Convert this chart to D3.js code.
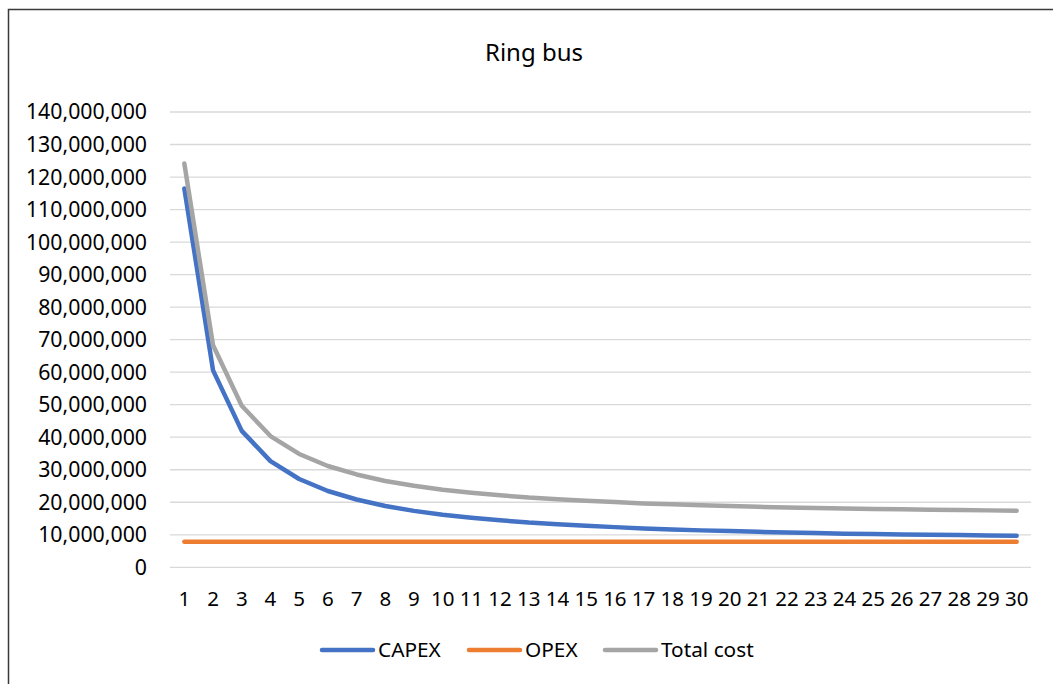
<!DOCTYPE html>
<html>
<head>
<meta charset="utf-8">
<script src="https://cdn.jsdelivr.net/npm/d3@7"></script>
<style>
  body { margin: 0; background: #fff; }
  text { font-family: "Noto Sans", sans-serif; fill: #000; }
</style>
</head>
<body>
<svg></svg>
<script>
// years 1..30
var years = d3.range(1, 31)

// values (baht)
var capex = [116300000, 60400000, 41800000, 32500000, 27000000, 23300000, 20700000, 18700000, 17200000, 16000000,
             15100000, 14300000, 13600000, 13100000, 12600000, 12200000, 11800000, 11500000, 11200000, 11000000,
             10750000, 10550000, 10400000, 10200000, 10100000, 9960000, 9850000, 9750000, 9650000, 9570000]
var opex = [7700000, 7700000, 7700000, 7700000, 7700000, 7700000, 7700000, 7700000, 7700000, 7700000,
            7700000, 7700000, 7700000, 7700000, 7700000, 7700000, 7700000, 7700000, 7700000, 7700000,
            7700000, 7700000, 7700000, 7700000, 7700000, 7700000, 7700000, 7700000, 7700000, 7700000]
var totalCost = [124000000, 68100000, 49500000, 40200000, 34700000, 31000000, 28400000, 26400000, 24900000, 23700000,
                 22800000, 22000000, 21300000, 20800000, 20300000, 19900000, 19500000, 19200000, 18900000, 18700000,
                 18450000, 18250000, 18100000, 17900000, 17800000, 17660000, 17550000, 17450000, 17350000, 17270000]
var yTicks = d3.range(0, 140000001, 10000000)

var seriesNames = ["CAPEX", "OPEX", "Total cost"]
var seriesColors = ["#4472C4", "#ED7D31", "#A5A5A5"]
var seriesValues = [capex, opex, totalCost]

var screen = {width: 1053, height: 684}
var plot = {left: 170, right: 1031, top: 111.5, bottom: 566.8}

var svg = d3.select("svg")
    .attr("width", screen.width)
    .attr("height", screen.height)

// chart frame (cut off at right and bottom)
svg.append("rect")
    .attr("x", 8.5).attr("y", 9.5)
    .attr("width", 1100).attr("height", 800)
    .attr("fill", "#fff")
    .attr("stroke", "#3a3a3a")
    .attr("stroke-width", 1.5)

svg.append("text")
    .attr("x", 534).attr("y", 61)
    .attr("text-anchor", "middle")
    .style("font-size", "24px")
    .text("Ring bus")

var xScale = d3.scaleBand()
    .domain(years)
    .range([plot.left, plot.right])

var yScale = d3.scaleLinear()
    .domain([0, 140000000])
    .range([plot.bottom, plot.top])

// gridlines
var yAxis = d3.axisLeft(yScale)
    .tickValues(yTicks)
    .tickSize(-(plot.right - plot.left))
    .tickPadding(23)
    .tickFormat(d3.format(","))

var gy = svg.append("g")
    .attr("transform", "translate(" + plot.left + ",0)")
    .call(yAxis)
gy.select(".domain").remove()
gy.selectAll(".tick line").attr("stroke", "#d9d9d9").attr("stroke-width", 1.3)
gy.selectAll(".tick text").style("font-size", "21.3px").attr("dy", "0.35em")

var xAxis = d3.axisBottom(xScale).tickSize(0).tickPadding(25)
var gx = svg.append("g")
    .attr("transform", "translate(0," + plot.bottom + ")")
    .call(xAxis)
gx.select(".domain").remove()
gx.selectAll(".tick text").style("font-size", "20.5px")

var line = d3.line()
    .x(function(d, i) { return xScale(years[i]) + xScale.bandwidth() / 2 })
    .y(function(d) { return yScale(d) })

svg.selectAll(".series")
    .data(seriesValues)
    .enter()
    .append("path")
    .attr("class", "series")
    .attr("d", line)
    .attr("fill", "none")
    .attr("stroke", function(d, i) { return seriesColors[i] })
    .attr("stroke-width", 4.5)
    .attr("stroke-linecap", "round")
    .attr("stroke-linejoin", "round")

// legend
var legendX = [322, 469, 605]
var leg = svg.selectAll(".legend")
    .data(seriesNames)
    .enter()
    .append("g")
    .attr("class", "legend")
    .attr("transform", function(d, i) { return "translate(" + legendX[i] + ",650)" })

leg.append("line")
    .attr("x1", 0).attr("x2", 51)
    .attr("stroke", function(d, i) { return seriesColors[i] })
    .attr("stroke-width", 4.5)
    .attr("stroke-linecap", "round")

leg.append("text")
    .attr("x", 56).attr("dy", "0.35em")
    .style("font-size", "20.8px")
    .text(function(d) { return d })
</script>
</body>
</html>
